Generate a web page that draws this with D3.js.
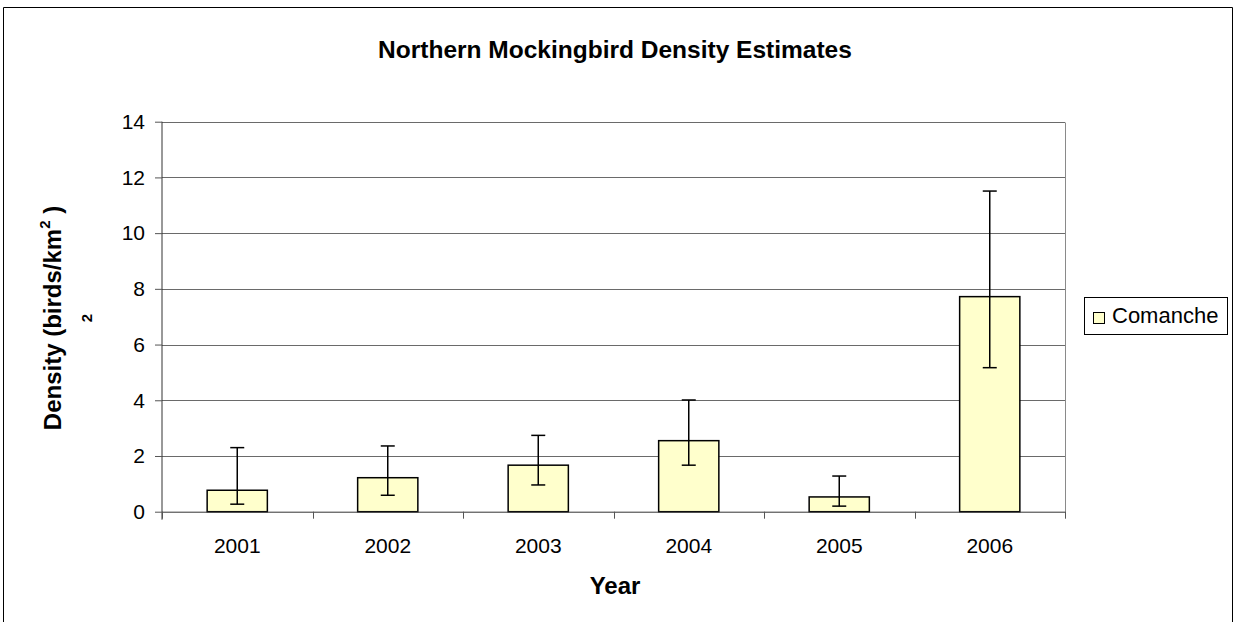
<!DOCTYPE html>
<html><head><meta charset="utf-8">
<script src="https://cdn.jsdelivr.net/npm/d3@7"></script>
<style>body{margin:0;background:#fff;}svg{display:block;font-family:"Liberation Sans",Arial,sans-serif;}</style>
</head><body>
<svg id="chart" width="1236" height="622"></svg>
<script>
const categories = ["2001","2002","2003","2004","2005","2006"];
const density = [0.77, 1.22, 1.67, 2.55, 0.53, 7.72];
const errLow = [0.27, 0.59, 0.96, 1.67, 0.20, 5.17];
const errHigh = [2.30, 2.36, 2.74, 4.01, 1.28, 11.51];
const yTicks = [0,2,4,6,8,10,12,14];
const seriesName = "Comanche";

const svg = d3.select("#chart");
// outer frame
svg.append("path").attr("d","M3.5,622 V7.5 H1232.5 V622").attr("fill","none").attr("stroke","#000").attr("stroke-width",1);

const L=162, R=1065, T=121.7, B=511.7;
const x = d3.scaleBand().domain(categories).range([L,R]).paddingInner(0.6).paddingOuter(0.3);
const xb = d3.scaleBand().domain(categories).range([L,R]);
const y = d3.scaleLinear().domain([0,14]).range([B,T]);

// gridlines
svg.append("g").selectAll("line").data(yTicks.filter(d=>d>0)).join("line")
  .attr("x1",L).attr("x2",R).attr("y1",d=>Math.round(y(d))+0.5).attr("y2",d=>Math.round(y(d))+0.5)
  .attr("stroke","#6a6a6a").attr("stroke-width",1);
// right plot border
svg.append("line").attr("x1",R+0.5).attr("x2",R+0.5).attr("y1",Math.round(T)+0.5).attr("y2",Math.round(B)+0.5).attr("stroke","#8a8a8a");

// bars
svg.append("g").selectAll("rect").data(categories).join("rect")
  .attr("x",d=>x(d)).attr("width",x.bandwidth())
  .attr("y",(d,i)=>y(density[i])).attr("height",(d,i)=>y(0)-y(density[i]))
  .attr("fill","#FFFFCC").attr("stroke","#000").attr("stroke-width",1.5);

// error bars
const eg = svg.append("g").attr("stroke","#000").attr("stroke-width",1.5);
categories.forEach((c,i)=>{
  const cx = x(c)+x.bandwidth()/2;
  eg.append("line").attr("x1",cx).attr("x2",cx).attr("y1",y(errLow[i])).attr("y2",y(errHigh[i]));
  eg.append("line").attr("x1",cx-7).attr("x2",cx+7).attr("y1",y(errLow[i])).attr("y2",y(errLow[i]));
  eg.append("line").attr("x1",cx-7).attr("x2",cx+7).attr("y1",y(errHigh[i])).attr("y2",y(errHigh[i]));
});

// y axis
const yAxis = d3.axisLeft(y).tickValues(yTicks).tickSize(7).tickPadding(10);
const ya = svg.append("g").attr("transform",`translate(${L},0)`).call(yAxis);
ya.select(".domain").attr("stroke","#333").attr("d",`M0,${T}V${B+8}`);
ya.selectAll(".tick line").attr("stroke","#555");
ya.selectAll("text").attr("font-size",21).attr("fill","#000").attr("font-family","Liberation Sans, Arial, sans-serif");

// x axis
const xAxis = d3.axisBottom(xb).tickSize(0).tickPadding(26);
const xa = svg.append("g").attr("transform",`translate(0,${B})`).call(xAxis);
xa.select(".domain").attr("stroke","#333").attr("d",`M${L},0.5H${R}`);
xa.selectAll("text").attr("font-size",21).attr("fill","#000").attr("font-family","Liberation Sans, Arial, sans-serif");
const bounds = categories.map(c=>xb(c)).concat([R]);
svg.append("g").selectAll("line").data(bounds).join("line")
  .attr("x1",d=>Math.round(d)+0.5).attr("x2",d=>Math.round(d)+0.5).attr("y1",B).attr("y2",B+7).attr("stroke","#555");

// title
svg.append("text").attr("x",615).attr("y",58).attr("text-anchor","middle")
  .attr("font-size",24.5).attr("font-weight","bold").text("Northern Mockingbird Density Estimates");
// x title
svg.append("text").attr("x",615).attr("y",594).attr("text-anchor","middle")
  .attr("font-size",24).attr("font-weight","bold").text("Year");
// y title
const yt = svg.append("text").attr("transform","translate(61,318) rotate(-90)").attr("text-anchor","middle")
  .attr("font-size",24).attr("font-weight","bold");
yt.append("tspan").text("Density (birds/km");
yt.append("tspan").attr("dy",-11).attr("font-size",15).text("2");
yt.append("tspan").attr("dy",11).text(" )");
svg.append("text").attr("transform","translate(92,318) rotate(-90)").attr("text-anchor","middle")
  .attr("font-size",15).attr("font-weight","bold").text("2");

// legend
const lg = svg.append("g");
lg.append("rect").attr("x",1084.5).attr("y",297.5).attr("width",143).attr("height",37).attr("fill","#fff").attr("stroke","#000");
lg.append("rect").attr("x",1093.5).attr("y",312.5).attr("width",11).attr("height",11).attr("fill","#FFFFCC").attr("stroke","#000");
lg.append("text").attr("x",1112).attr("y",323).attr("font-size",22).text(seriesName);
</script>
</body></html>
